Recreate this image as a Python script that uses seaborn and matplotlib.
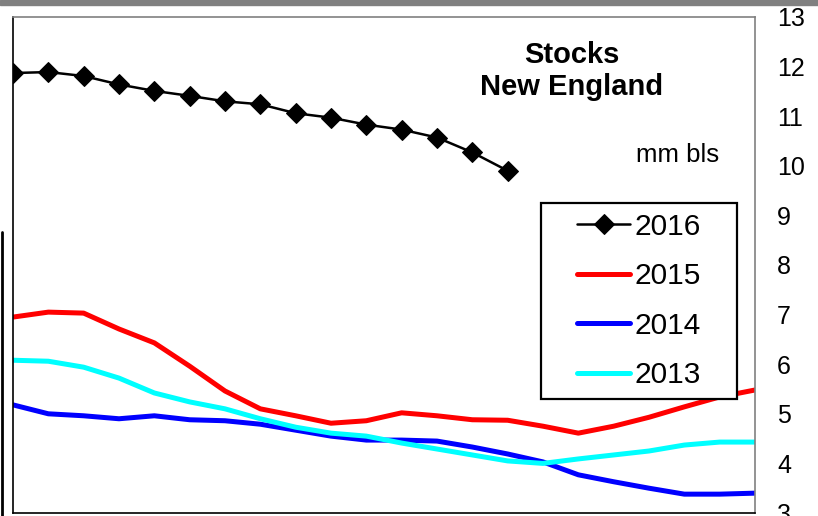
import matplotlib.pyplot as plt
import pandas as pd
import seaborn as sns

# weekly New England stocks, mm bls (22 weeks shown)
weeks = list(range(22))
stocks_2016 = [11.87, 11.89, 11.81, 11.64, 11.51, 11.41, 11.30, 11.24, 11.06, 10.97,
               10.83, 10.73, 10.57, 10.27, 9.90]
stocks_2015 = [6.95, 7.05, 7.03, 6.71, 6.43, 5.96, 5.46, 5.10, 4.96, 4.81, 4.86,
               5.02, 4.96, 4.88, 4.87, 4.75, 4.61, 4.75, 4.93, 5.14, 5.34, 5.48]
stocks_2014 = [5.18, 5.00, 4.96, 4.90, 4.96, 4.88, 4.86, 4.79, 4.67, 4.55, 4.47,
               4.47, 4.45, 4.33, 4.19, 4.03, 3.77, 3.63, 3.50, 3.38, 3.38, 3.40]
stocks_2013 = [6.08, 6.06, 5.94, 5.72, 5.42, 5.24, 5.10, 4.90, 4.73, 4.61, 4.55,
               4.41, 4.29, 4.17, 4.05, 4.00, 4.09, 4.17, 4.25, 4.37, 4.43, 4.43]

sns.set_theme(style="white")
plt.rcParams["font.family"] = ["Liberation Sans", "DejaVu Sans"]
plt.rcParams["text.color"] = "black"

fig = plt.figure(figsize=(8.18, 5.16), dpi=100)
ax = fig.add_axes([13 / 818, 1 - 513 / 516, 742 / 818, 496 / 516])

# grey band across the top of the crop and the leftover axis line at the left edge
fig.patches.append(plt.Rectangle((0, 1 - 5 / 516), 1, 5 / 516, transform=fig.transFigure,
                                 color="#808080", zorder=0))
fig.lines.append(plt.Line2D([1.5 / 818, 1.5 / 818], [0, 1 - 232 / 516],
                            transform=fig.transFigure, color="black", lw=2))

sns.lineplot(x=weeks[:len(stocks_2016)], y=stocks_2016, ax=ax, color="black", lw=1.8,
             marker="D", markersize=10, markeredgecolor="black", label="2016")
sns.lineplot(x=weeks, y=stocks_2015, ax=ax, color="#ff0000", lw=3.6, label="2015")
sns.lineplot(x=weeks, y=stocks_2014, ax=ax, color="#0000ff", lw=3.6, label="2014")
sns.lineplot(x=weeks, y=stocks_2013, ax=ax, color="#00ffff", lw=3.6, label="2013")

ax.set_xlim(0, 21)
ax.set_ylim(3, 13)
ax.set_xticks([])
ax.set_yticks(range(3, 14))
ax.yaxis.tick_right()
ax.tick_params(axis="y", length=0, pad=16, labelsize=18, labelcolor="black")
for side in ["left", "bottom"]:
    ax.spines[side].set_color("black")
for side in ["top", "right"]:
    ax.spines[side].set_color("#808080")
for sp in ax.spines.values():
    sp.set_linewidth(1.2)
ax.set_xlabel("")
ax.set_ylabel("")

ax.text(0.7534, 0.9234, "Stocks", transform=ax.transAxes, ha="center", va="center",
        fontsize=21, fontweight="bold")
ax.text(0.7534, 0.8589, "New England", transform=ax.transAxes, ha="center", va="center",
        fontsize=21, fontweight="bold")
ax.text(0.896, 0.722, "mm bls", transform=ax.transAxes, ha="center", va="center",
        fontsize=18.5)

# legend box drawn separately so its padding can match the reference
ax.add_patch(plt.Rectangle((0.7116, 0.2298), 0.2642, 0.3952, transform=ax.transAxes,
                           facecolor="white", edgecolor="black", lw=1.6, zorder=4))
leg = ax.legend(loc="center", bbox_to_anchor=(0.8437, 0.4274), borderaxespad=0,
                fontsize=21.5, frameon=False, handlelength=1.8,
                handletextpad=0.15, labelspacing=0.72, borderpad=0)
leg.set_zorder(5)

fig.savefig("out.png", dpi=100)
